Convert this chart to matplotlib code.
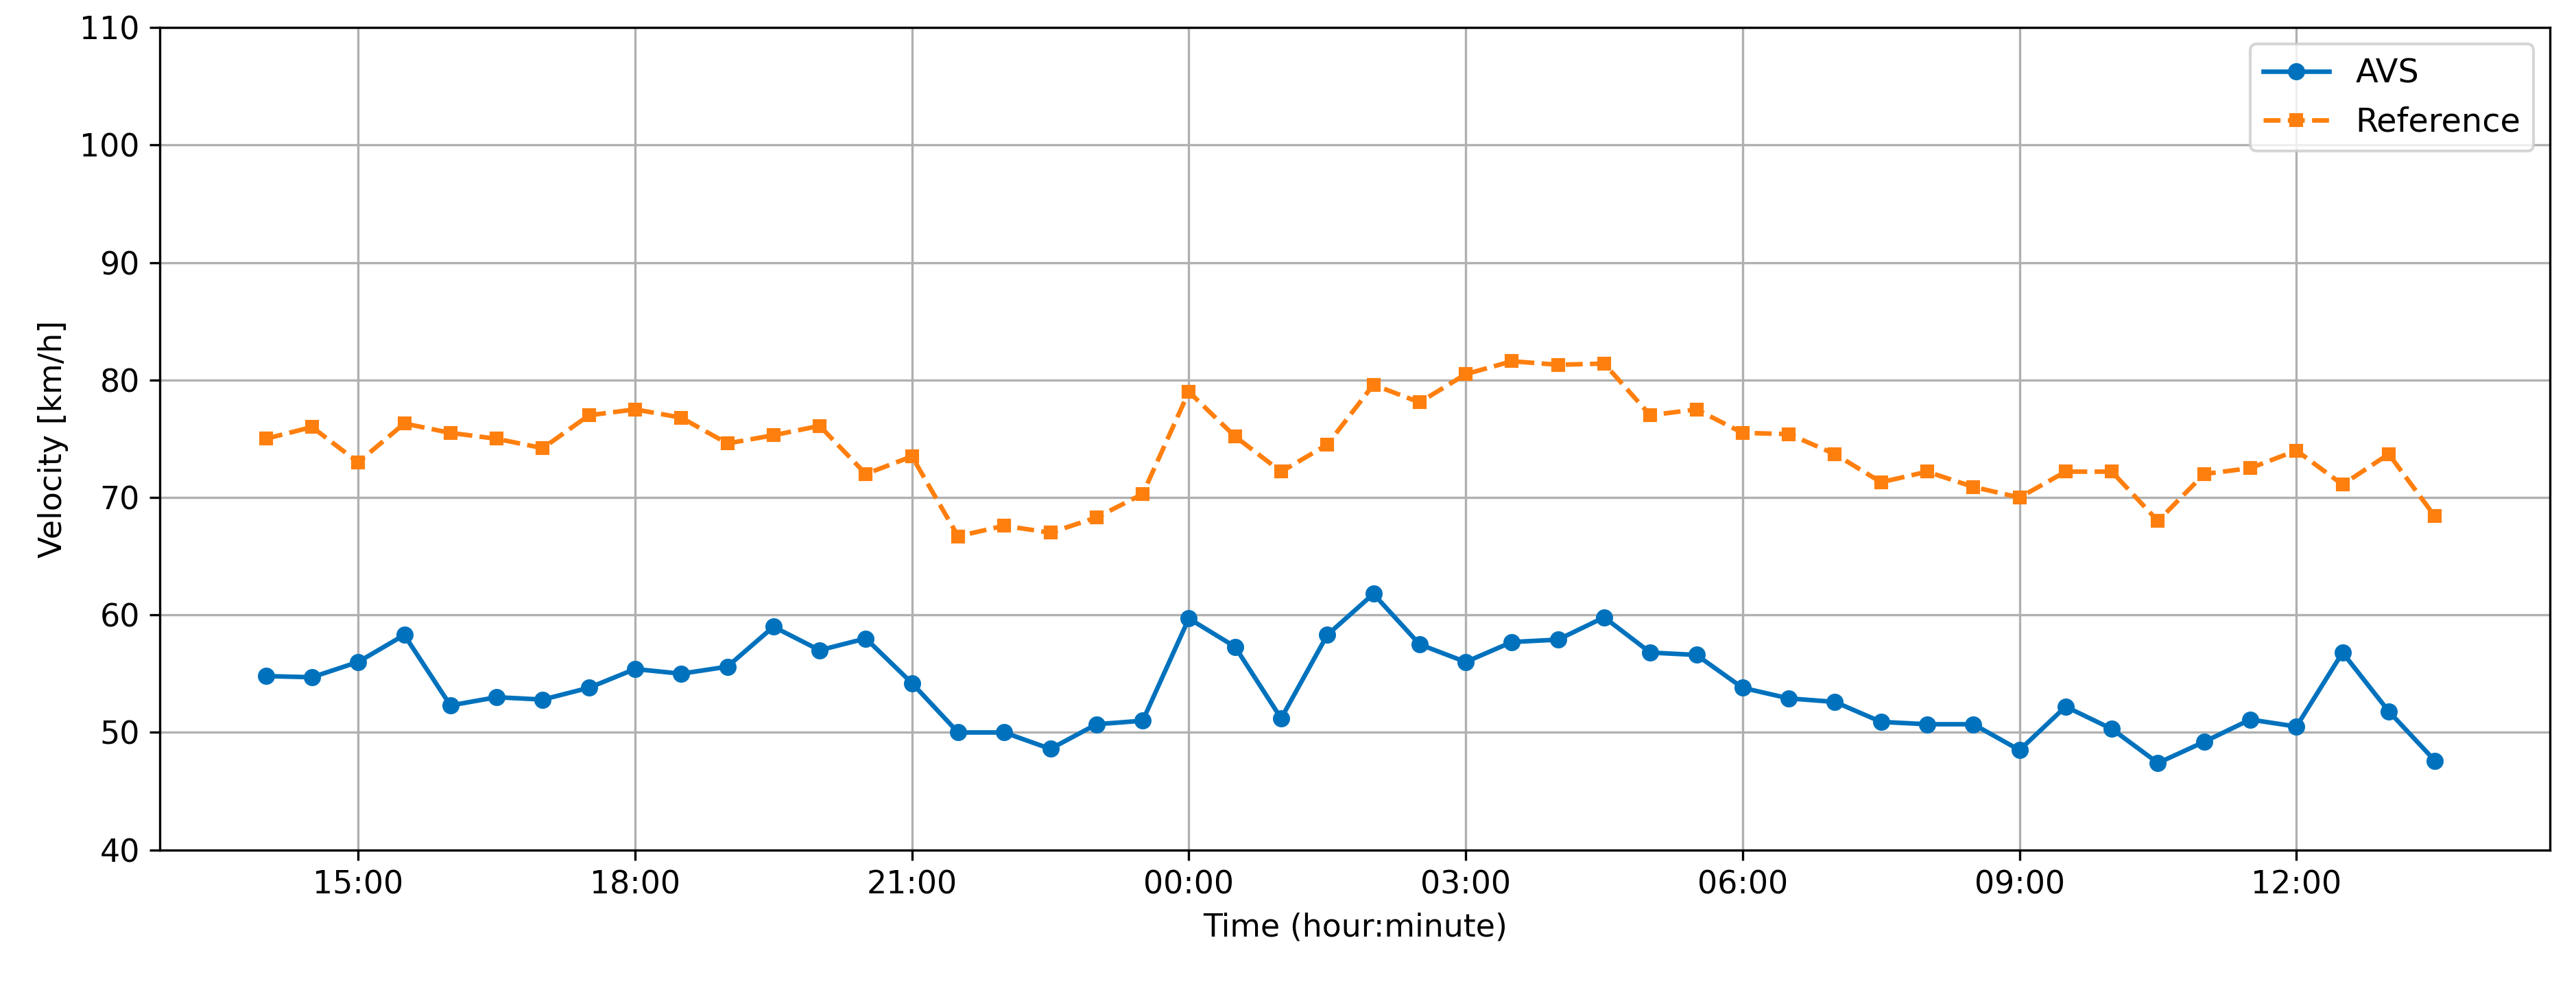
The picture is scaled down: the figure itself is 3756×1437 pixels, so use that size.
import matplotlib
matplotlib.use("Agg")
import matplotlib.pyplot as plt
import numpy as np

# half-hourly samples starting 14:00 (hours since midnight of day 1)
hours = np.arange(48) * 0.5 + 14.0

avs = [54.8, 54.7, 56.0, 58.3, 52.3, 53.0, 52.8, 53.8, 55.4, 55.0, 55.6, 59.0,
       57.0, 58.0, 54.2, 50.0, 50.0, 48.6, 50.7, 51.0, 59.7, 57.3, 51.2, 58.3,
       61.8, 57.5, 56.0, 57.7, 57.9, 59.8, 56.8, 56.6, 53.8, 52.9, 52.6, 50.9,
       50.7, 50.7, 48.5, 52.2, 50.3, 47.4, 49.2, 51.1, 50.5, 56.8, 51.8, 47.6]
reference = [75.0, 76.0, 73.0, 76.3, 75.5, 75.0, 74.2, 77.0, 77.5, 76.8, 74.6, 75.3,
             76.1, 72.0, 73.5, 66.7, 67.6, 67.0, 68.3, 70.3, 79.0, 75.2, 72.2, 74.5,
             79.6, 78.1, 80.5, 81.6, 81.3, 81.4, 77.0, 77.5, 75.5, 75.4, 73.7, 71.3,
             72.2, 70.9, 70.0, 72.2, 72.2, 68.0, 72.0, 72.5, 74.0, 71.1, 73.7, 68.4]

tick_pos = [15, 18, 21, 24, 27, 30, 33, 36]
tick_labels = ["15:00", "18:00", "21:00", "00:00", "03:00", "06:00", "09:00", "12:00"]

plt.rcParams["font.size"] = 11
fig, ax = plt.subplots(figsize=(12.52, 4.79), dpi=300)
ax.plot(hours, avs, "-o", color="#0072bd", markersize=5, linewidth=1.6, label="AVS")
ax.plot(hours, reference, "--s", color="#ff7f0e", markersize=4, linewidth=1.6, label="Reference")
ax.set_xticks(tick_pos)
ax.set_xticklabels(tick_labels)
ax.set_xlim(12.85, 38.75)
ax.set_ylim(40, 110)
ax.set_xlabel("Time (hour:minute)")
ax.set_ylabel("Velocity [km/h]")
ax.grid(True, color="#b0b0b0", linewidth=0.8)
ax.legend(loc="upper right", fontsize=11.5)
plt.subplots_adjust(left=0.062, right=0.99, top=0.972, bottom=0.138)
plt.savefig("out.png", dpi=300)
